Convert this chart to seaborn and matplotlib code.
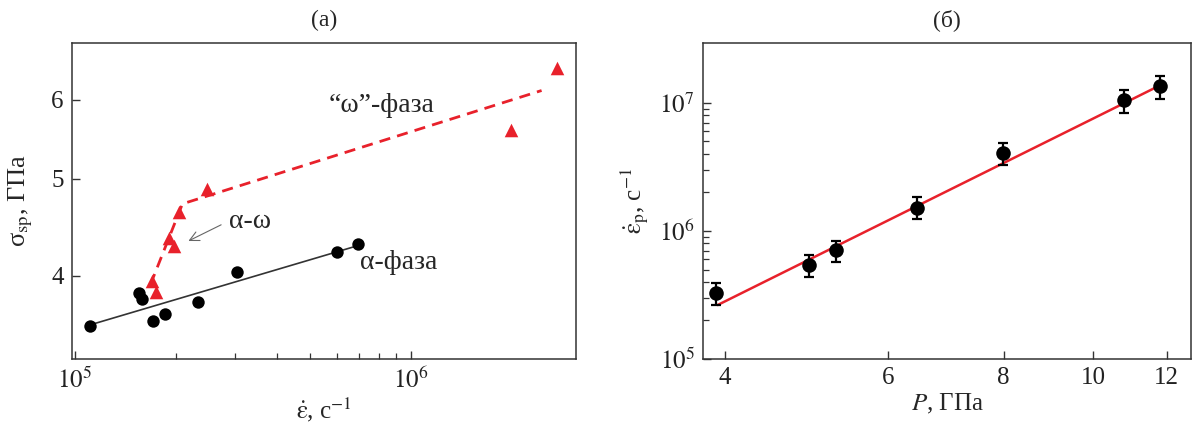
import matplotlib
matplotlib.use('Agg')
import matplotlib.pyplot as plt
import matplotlib.ticker as mticker
import seaborn as sns

# (a) spall strength vs strain rate
alpha_rate = [1.110e5, 1.553e5, 1.586e5, 1.703e5, 1.853e5, 2.328e5, 3.03e5, 6.0e5, 6.93e5]
alpha_sigma = [3.565, 3.843, 3.79, 3.606, 3.66, 3.767, 4.03, 4.22, 4.30]
omega_rate = [1.695e5, 1.74e5, 1.90e5, 1.97e5, 2.046e5, 2.466e5, 1.98e6, 2.71e6]
omega_sigma = [3.954, 3.85, 4.36, 4.28, 4.63, 4.88, 5.59, 6.46]
alpha_fit_rate = [1.11e5, 6.84e5]
alpha_fit_sigma = [3.57, 4.28]
omega_fit_rate = [1.68e5, 2.09e5, 2.44e6]
omega_fit_sigma = [3.92, 4.72, 6.13]

# (б) strain rate vs pressure
p_gpa = [3.91, 4.93, 5.28, 6.45, 7.99, 10.79, 11.8]
rate = [3.25e5, 5.41e5, 7.08e5, 1.52e6, 4.03e6, 1.06e7, 1.36e7]
rate_hi = [3.9e5, 6.47e5, 8.38e5, 1.85e6, 4.87e6, 1.26e7, 1.61e7]
rate_lo = [2.64e5, 4.34e5, 5.74e5, 1.23e6, 3.27e6, 8.4e6, 1.07e7]
fit_p = [3.93, 11.8]
fit_rate = [2.64e5, 1.37e7]

RED = '#e8212b'
sns.set_style('ticks')
plt.rcParams['font.family'] = ['Liberation Serif', 'DejaVu Serif']
plt.rcParams['mathtext.fontset'] = 'stix'
plt.rcParams['font.size'] = 17
plt.rcParams['axes.edgecolor'] = '#333333'
plt.rcParams['xtick.color'] = '#333333'
plt.rcParams['ytick.color'] = '#333333'
plt.rcParams['xtick.labelcolor'] = '#222222'
plt.rcParams['ytick.labelcolor'] = '#222222'

fig = plt.figure(figsize=(11.93, 4.30), dpi=100)
ax1 = fig.add_axes([0.0604, 0.1651, 0.4225, 0.7349])
ax2 = fig.add_axes([0.5893, 0.1651, 0.4090, 0.7349])

# ---- panel (a)
sns.lineplot(x=alpha_fit_rate, y=alpha_fit_sigma, ax=ax1, color='#333333', linewidth=1.2)
sns.lineplot(x=omega_fit_rate, y=omega_fit_sigma, ax=ax1, color=RED, linewidth=2.0,
             sort=False, linestyle=(0, (4, 2.6)))
sns.scatterplot(x=alpha_rate, y=alpha_sigma, ax=ax1, color='black', marker='o', s=80,
                linewidth=0, zorder=3)
sns.scatterplot(x=omega_rate, y=omega_sigma, ax=ax1, color=RED, marker='^', s=95,
                linewidth=0, zorder=3)
ax1.set_xscale('log')
ax1.set_yscale('log')
ax1.set_xlim(0.982e5, 3.09e6)
ax1.set_ylim(3.30, 6.84)
ax1.xaxis.set_major_locator(mticker.FixedLocator([1e5, 1e6]))
ax1.xaxis.set_major_formatter(mticker.FixedFormatter([r'$10^5$', r'$10^6$']))
ax1.xaxis.set_minor_locator(mticker.FixedLocator([k * 1e5 for k in range(2, 10)]))
ax1.xaxis.set_minor_formatter(mticker.NullFormatter())
ax1.yaxis.set_major_locator(mticker.FixedLocator([4, 5, 6]))
ax1.yaxis.set_major_formatter(mticker.FixedFormatter(['4', '5', '6']))
ax1.yaxis.set_minor_locator(mticker.NullLocator())
ax1.set_xlabel(r'$\dot{\mathrm{\varepsilon}}$, с$^{-1}$', fontsize=18, labelpad=2)
ax1.set_ylabel(r'σ$_{\rm sp}$, ГПа', fontsize=19, labelpad=12)
ax1.set_title('(a)', fontsize=17, pad=12)
ax1.text(5.69e5, 5.92, '“ω”-фаза', fontsize=20, ha='left', va='center')
ax1.text(7.02e5, 4.12, 'α-фаза', fontsize=20, ha='left', va='center')
ax1.text(2.88e5, 4.53, 'α-ω', fontsize=20, ha='left', va='center')
ax1.annotate('', xy=(2.14e5, 4.32), xytext=(2.77e5, 4.51),
             arrowprops=dict(arrowstyle='->', color='#666666', lw=0.8))

# ---- panel (б)
sns.lineplot(x=fit_p, y=fit_rate, ax=ax2, color=RED, linewidth=1.8)
yerr = [[r - lo for r, lo in zip(rate, rate_lo)], [hi - r for r, hi in zip(rate, rate_hi)]]
ax2.errorbar(p_gpa, rate, yerr=yerr, fmt='none', ecolor='black', elinewidth=1.6,
             capsize=3.6, capthick=1.6, zorder=3)
sns.scatterplot(x=p_gpa, y=rate, ax=ax2, color='black', marker='o', s=110,
                linewidth=0, zorder=4)
ax2.set_xscale('log')
ax2.set_yscale('log')
ax2.set_xlim(3.79, 12.75)
ax2.set_ylim(1e5, 2.94e7)
ax2.xaxis.set_major_locator(mticker.FixedLocator([4, 6, 8, 10, 12]))
ax2.xaxis.set_major_formatter(mticker.FixedFormatter(['4', '6', '8', '10', '12']))
ax2.xaxis.set_minor_locator(mticker.NullLocator())
ax2.yaxis.set_major_locator(mticker.FixedLocator([1e5, 1e6, 1e7]))
ax2.yaxis.set_major_formatter(mticker.FixedFormatter([r'$10^5$', r'$10^6$', r'$10^7$']))
ax2.yaxis.set_minor_locator(mticker.FixedLocator([k * 10 ** e for e in (5, 6) for k in range(2, 10)]))
ax2.yaxis.set_minor_formatter(mticker.NullFormatter())
ax2.set_xlabel(r'$P$, ГПа', fontsize=18, labelpad=2)
ax2.set_ylabel(r'$\dot{\mathrm{\varepsilon}}_{\rm p}$, с$^{-1}$', fontsize=18, labelpad=6)
ax2.set_title('(б)', fontsize=17, pad=12)

for ax in (ax1, ax2):
    for s in ax.spines.values():
        s.set_linewidth(1.1)
    ax.tick_params(which='major', direction='in', length=6, width=1.0, pad=6, labelsize=18)
    ax.tick_params(which='minor', direction='in', length=4, width=0.9)

fig.savefig('out.png', dpi=100)
